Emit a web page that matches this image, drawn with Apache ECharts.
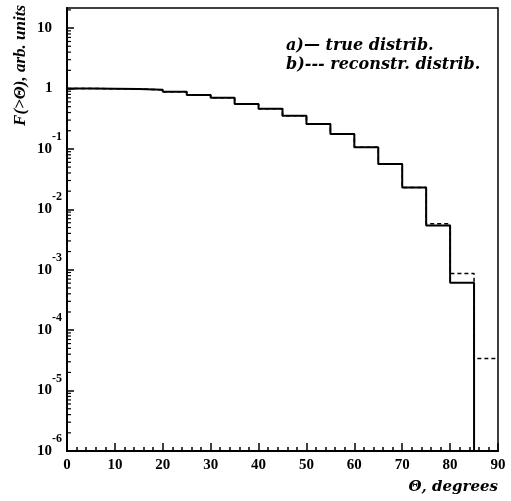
<!DOCTYPE html>
<html>
<head>
<meta charset="utf-8">
<script src="https://cdn.jsdelivr.net/npm/echarts@6/dist/echarts.min.js"></script>
<style>html,body{margin:0;padding:0;background:#fff;}#chart{width:511px;height:501px;}</style>
</head>
<body>
<div id="chart"></div>
<script>
// Bin edges (degrees): each value holds from edge i to edge i+1
const thetaEdges = [0, 5, 10, 15, 20, 25, 30, 35, 40, 45, 50, 55, 60, 65, 70, 75, 80, 85, 90];
// a) true distribution F(>Theta); last bin is empty (drawn at the axis floor 1e-6)
const trueDistrib = [1.0, 0.99, 0.98, 0.95, 0.88, 0.78, 0.70, 0.555, 0.464, 0.355, 0.259, 0.177, 0.107, 0.0565, 0.0229, 0.0054, 0.00061, 1e-6];
// b) reconstructed distribution
const recoDistrib = [1.0, 0.99, 0.98, 0.95, 0.88, 0.78, 0.70, 0.555, 0.464, 0.355, 0.259, 0.177, 0.107, 0.0565, 0.0229, 0.0058, 0.00087, 0.000034];
const xTickLabels = [0, 10, 20, 30, 40, 50, 60, 70, 80, 90];
const yDecades = [1e-6, 1e-5, 1e-4, 1e-3, 1e-2, 1e-1, 1, 10];
const legendLines = ['a)\u2014 true distrib.', 'b)--- reconstr. distrib.'];

function stepData(vals) {
  const d = [];
  for (let i = 0; i < vals.length; i++) d.push([thetaEdges[i], vals[i]]);
  d.push([thetaEdges[vals.length], vals[vals.length - 1]]);
  return d;
}
// log minor tick positions (2..9 x 10^n)
const minorY = [];
yDecades.forEach(function (d) {
  for (let k = 2; k <= 9; k++) { const v = d * k; if (v <= 21.5) minorY.push([0, v]); }
});

const FONT = '"Liberation Serif", "DejaVu Serif", serif';
const WIDE = '"DejaVu Serif", serif';
const chart = echarts.init(document.getElementById('chart'));
chart.setOption({
  animation: false,
  backgroundColor: '#fff',
  grid: { left: 67, right: 13, top: 8, bottom: 50, show: true, borderColor: '#000', borderWidth: 1.5, containLabel: false },
  xAxis: {
    type: 'value', min: 0, max: 90, interval: 10,
    name: '\u0398, degrees', nameLocation: 'end', nameGap: 0,
    nameTextStyle: { fontFamily: WIDE, fontWeight: 'bold', fontStyle: 'italic', fontSize: 15, color: '#000', align: 'right', verticalAlign: 'top', padding: [29, 0, 0, 0] },
    axisLine: { show: true, lineStyle: { color: '#000', width: 2 } },
    axisTick: { show: true, inside: true, length: 8, lineStyle: { color: '#000', width: 1.5 } },
    minorTick: { show: true, splitNumber: 5, length: 4, lineStyle: { color: '#000', width: 1.5 } },
    splitLine: { show: false },
    axisLabel: { fontFamily: FONT, fontWeight: 'bold', fontSize: 15, color: '#000', margin: 7,
      formatter: function (v) { return xTickLabels.indexOf(v) >= 0 ? String(v) : ''; } }
  },
  yAxis: {
    type: 'log', logBase: 10, min: 1e-6, max: 21.5,
    name: 'F(>\u0398), arb. units', nameLocation: 'end', nameGap: 3, nameRotate: 90,
    nameTextStyle: { fontFamily: FONT, fontWeight: 'bold', fontStyle: 'italic', fontSize: 17, color: '#000', align: 'right', verticalAlign: 'bottom', padding: [0, 0, 38, 0] },
    axisLine: { show: true, lineStyle: { color: '#000', width: 2 } },
    axisTick: { show: true, inside: true, length: 7, lineStyle: { color: '#000', width: 1.5 } },
    minorTick: { show: false },
    splitLine: { show: false },
    axisLabel: {
      showMaxLabel: false, align: 'left', margin: 30, color: '#000',
      formatter: function (v) {
        const l = Math.log10(v); const e = Math.round(l);
        if (Math.abs(l - e) > 1e-6) return '';
        if (e === 0) return '{one|1}';
        if (e === 1) return '{b|10}';
        return '{b|10}{s|' + e + '}';
      },
      rich: {
        b: { fontFamily: FONT, fontWeight: 'bold', fontSize: 15, lineHeight: 15, color: '#000', verticalAlign: 'middle' },
        one: { fontFamily: FONT, fontWeight: 'bold', fontSize: 15, lineHeight: 15, color: '#000', padding: [0, 0, 0, 8] },
        s: { fontFamily: FONT, fontWeight: 'bold', fontSize: 12, lineHeight: 12, color: '#000', verticalAlign: 'middle', padding: [0, 0, 24, 0] }
      }
    }
  },
  series: [
    { name: 'reconstr. distrib.', type: 'line', step: 'end', data: stepData(recoDistrib), symbol: 'none',
      lineStyle: { color: '#000', width: 1.5, type: [4, 3] }, z: 2 },
    { name: 'true distrib.', type: 'line', step: 'end', data: stepData(trueDistrib), symbol: 'none',
      lineStyle: { color: '#000', width: 2 }, z: 3 },
    { name: 'minorY', type: 'custom', data: minorY, silent: true, z: 4, clip: false,
      encode: { x: 0, y: 1 },
      renderItem: function (params, api) {
        const p = api.coord([api.value(0), api.value(1)]);
        return { type: 'line', shape: { x1: p[0], y1: p[1], x2: p[0] + 4, y2: p[1] }, style: { stroke: '#000', lineWidth: 1.2 } };
      } }
  ],
  graphic: [
    { type: 'text', left: 286, top: 38, style: { text: legendLines[0], font: 'italic bold 16px ' + WIDE, fill: '#000' } },
    { type: 'text', left: 286, top: 57, style: { text: legendLines[1], font: 'italic bold 16px ' + WIDE, fill: '#000' } }
  ]
});
</script>
</body>
</html>
